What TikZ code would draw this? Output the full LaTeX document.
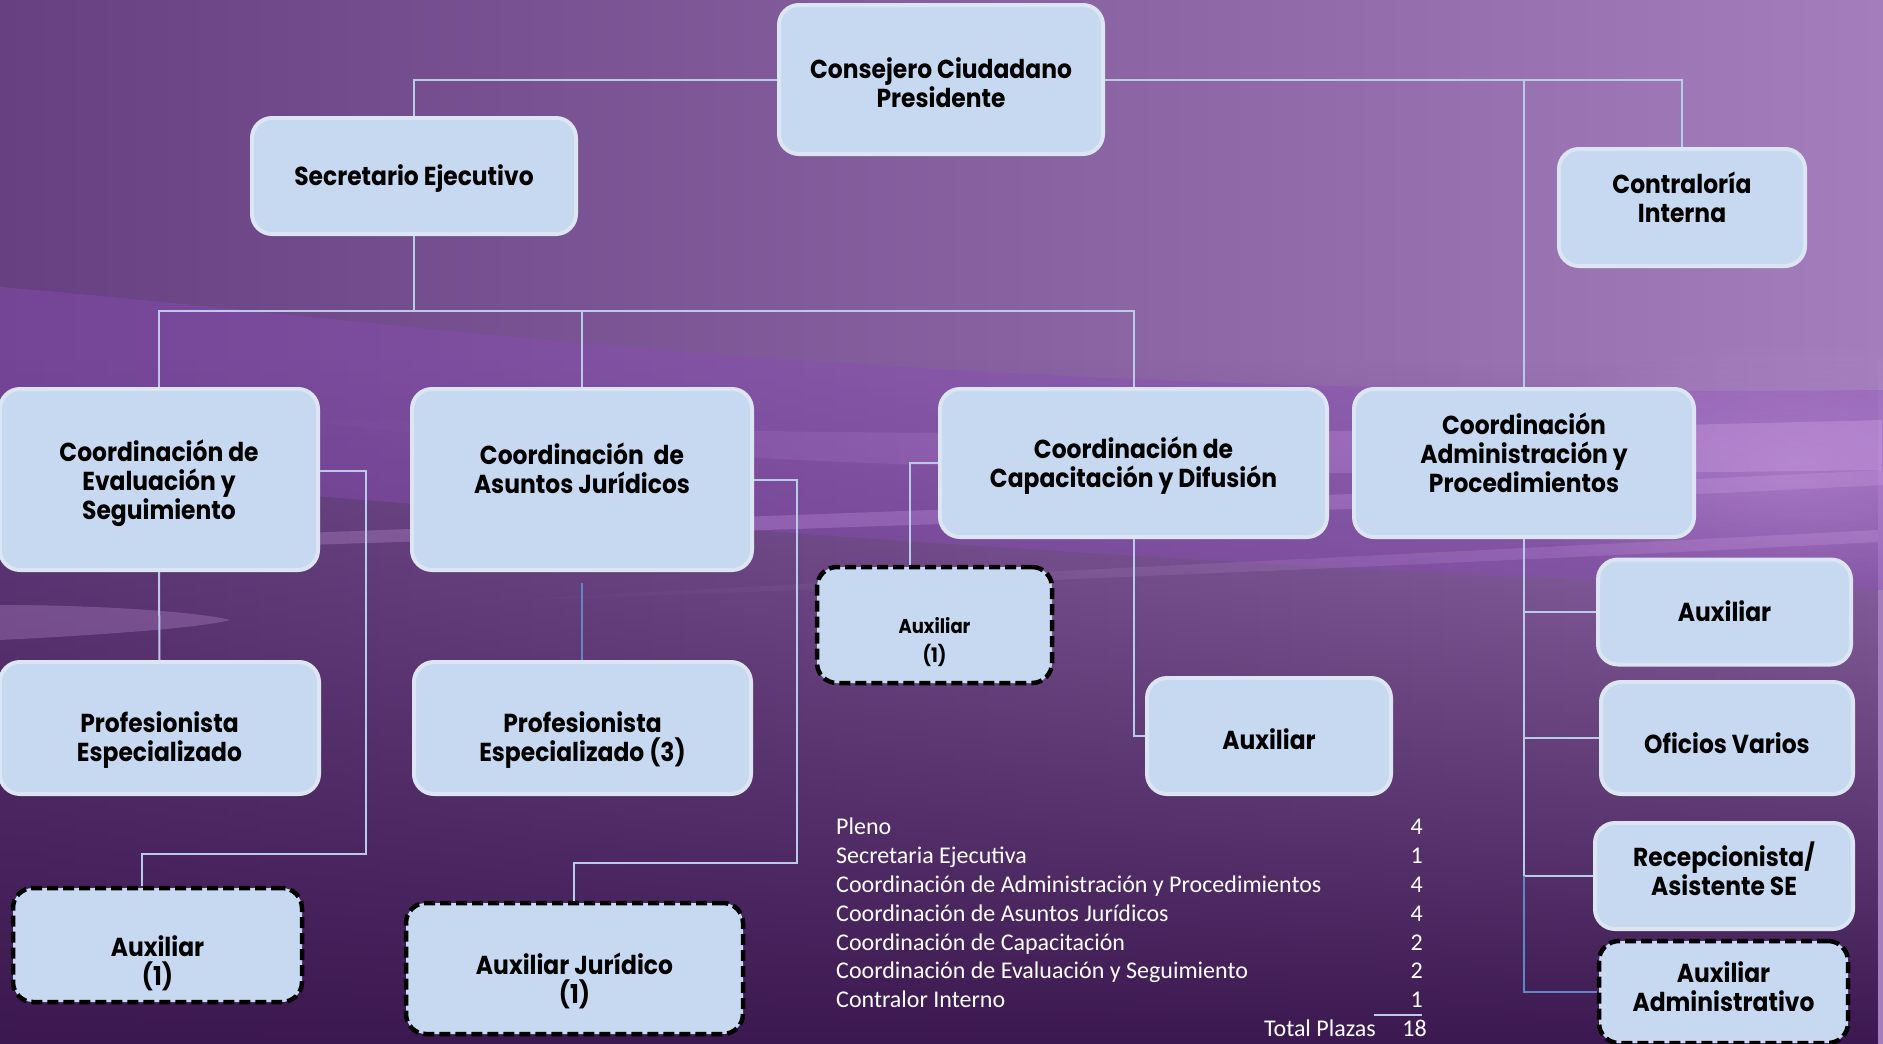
\documentclass[tikz,border=0pt]{standalone}
\usepackage{fontspec}
\setmainfont{Carlito}
\newfontfamily\boxfont[FakeStretch=0.9]{Poppins}
\usetikzlibrary{fadings}
\definecolor{boxfill}{HTML}{C6D9F0}
\definecolor{boxedge}{HTML}{DCE6F2}
\definecolor{conncol}{HTML}{B8CCE8}
\definecolor{connblue}{HTML}{5A8AC6}
\definecolor{bgTL}{HTML}{664080}
\definecolor{bgTR}{HTML}{A47EBC}
\definecolor{bgB}{HTML}{3C1850}
\definecolor{wave}{HTML}{D6A6EC}
\definecolor{violet}{HTML}{8A4CB8}
\tikzfading[name=darkbottom, top color=transparent!100, bottom color=transparent!0]
\tikzfading[name=softglow, inner color=transparent!0, outer color=transparent!100]
\tikzfading[name=fromleft, left color=transparent!100, right color=transparent!0]
\tikzset{
  orgbox/.style={draw=boxedge, line width=4pt, fill=boxfill, rounded corners=20pt, inner sep=0pt},
  dashbox/.style={draw=black, line width=4.5pt, dash pattern=on 11pt off 5pt, fill=boxfill, rounded corners=20pt, inner sep=0pt},
  boxtext/.style={align=center, font=\boxfont\bfseries\fontsize{26}{29}\selectfont, text=black, inner sep=0pt},
  smalltext/.style={align=center, font=\boxfont\bfseries\fontsize{20}{29}\selectfont, text=black, inner sep=0pt},
  conn/.style={draw=conncol, line width=2pt},
  connb/.style={draw=connblue, line width=2pt},
  tabl/.style={anchor=base west, text=white, font=\fontsize{24}{28}\selectfont, inner sep=0pt},
  tabr/.style={anchor=base east, text=white, font=\fontsize{24}{28}\selectfont, inner sep=0pt},
}
% box style, name, cx, cy, w, h, text dy, text style, text
\newcommand{\orgnode}[9]{%
  \node[#1, minimum width=#5pt, minimum height=#6pt] (#2) at (#3,#4) {};
  \node[#8] (#2-t) at (#3,#4+#7) {#9};
}
\begin{document}
\begin{tikzpicture}[x=1pt,y=-1pt]
\useasboundingbox (0,0) rectangle (1883,1044);
% background
\shade[left color=bgTL, right color=bgTR] (0,0) rectangle (1883,1044);
\fill[bgB, path fading=darkbottom] (0,360) rectangle (1883,1044);
% violet sheet
\fill[violet, opacity=0.40] (0,287) .. controls (400,320) and (900,400) .. (1883,390)
  -- (1883,590) .. controls (1200,570) and (600,520) .. (0,470) -- cycle;
% bright streaks
\fill[wave, opacity=0.35, path fading=fromleft] (250,415) .. controls (700,438) and (1200,438) .. (1883,420)
  -- (1883,470) .. controls (1200,480) and (700,470) .. (250,415) -- cycle;
\fill[wave, opacity=0.25] (0,545) .. controls (600,520) and (1300,500) .. (1883,470)
  -- (1883,485) .. controls (1300,515) and (600,535) .. (0,555) -- cycle;
\fill[wave, opacity=0.25, path fading=fromleft] (450,603) .. controls (900,578) and (1400,555) .. (1883,530)
  -- (1883,542) .. controls (1400,567) and (900,587) .. (450,603) -- cycle;
\fill[wave, opacity=0.35, path fading=softglow] (1790,470) ellipse [x radius=300, y radius=130];
\fill[wave, opacity=0.25] (0,605) .. controls (100,605) and (200,612) .. (230,620)
  .. controls (200,628) and (100,635) .. (0,640) -- cycle;

% nodes
\orgnode{orgbox}{cons}{941}{79.5}{324}{149}{3}{boxtext}{Consejero Ciudadano\\Presidente}
\orgnode{orgbox}{sec}{414}{176}{324}{116}{3}{boxtext}{Secretario Ejecutivo}
\orgnode{orgbox}{contr}{1682}{207.5}{246}{117}{-10}{boxtext}{Contraloría\\Interna}
\orgnode{orgbox}{eval}{159}{479.5}{318}{181}{4}{boxtext}{Coordinación de\\Evaluación y\\Seguimiento}
\orgnode{orgbox}{asun}{582}{479.5}{340}{181}{-11}{boxtext}{Coordinación~ de\\Asuntos Jurídicos}
\orgnode{orgbox}{capac}{1133.5}{463}{387}{148}{3}{boxtext}{Coordinación de\\Capacitación y Difusión}
\orgnode{orgbox}{admin}{1524}{463}{340}{148}{-10}{boxtext}{Coordinación\\Administración y\\Procedimientos}
\orgnode{orgbox}{prof1}{159.5}{728}{319}{132}{12}{boxtext}{Profesionista\\Especializado}
\orgnode{orgbox}{prof3}{582.5}{728}{337}{132}{12}{boxtext}{Profesionista\\Especializado (3)}
\orgnode{dashbox}{aux1}{157.5}{945}{289}{114}{18}{boxtext}{Auxiliar\\(1)}
\orgnode{dashbox}{auxjur}{574.5}{968.5}{337}{131}{12}{boxtext}{Auxiliar Jurídico\\(1)}
\orgnode{dashbox}{auxcap}{934.5}{625}{235}{116}{17}{smalltext}{Auxiliar\\(1)}
\orgnode{orgbox}{auxc}{1269}{736}{244}{116}{3}{boxtext}{Auxiliar}
\orgnode{orgbox}{auxa}{1724.5}{612}{253}{105}{-1}{boxtext}{Auxiliar}
\orgnode{orgbox}{ofic}{1727}{738}{252}{112}{5}{boxtext}{Oficios Varios}
\orgnode{orgbox}{recep}{1724}{876}{258}{106}{-7}{boxtext}{Recepcionista/\\Asistente SE}
\orgnode{dashbox}{auxadm}{1723.5}{992}{249}{102}{-5}{boxtext}{Auxiliar\\Administrativo}

% connectors
\coordinate (bus) at (414,311);
\draw[conn] (cons.west) -- (cons.west -| sec.north) -- (sec.north);
\draw[conn] (cons.east) -| (contr.north);
\draw[conn] (cons.east -| admin.north) -- (admin.north);
\draw[conn] (sec.south) -- (bus);
\draw[conn] (eval.north) |- (bus -| capac.north) -- (capac.north);
\draw[conn] (asun.north) -- (asun.north |- bus);
\draw[conn] (eval.south) -- (prof1.north);
\coordinate (ea) at (366,471);
\coordinate (eb) at (142,854);
\draw[conn] (eval.east |- ea) -- (ea) |- (eb) -- (eb |- aux1.north);
\coordinate (ja) at (797,480);
\coordinate (jb) at (574,863);
\draw[conn] (asun.east |- ja) -- (ja) |- (jb) -- (jb |- auxjur.north);
\coordinate (pa) at (582,583);
\draw[connb] (pa) -- (pa |- prof3.north);
\coordinate (ca) at (910,463);
\draw[conn] (capac.west) -- (ca) -- (ca |- auxcap.north);
\draw[conn] (capac.south) |- (auxc.west);
\draw[conn] (admin.south) -- (admin.south |- recep.west);
\draw[conn] (admin.south |- auxa.west) -- (auxa.west);
\draw[conn] (admin.south |- ofic.west) -- (ofic.west);
\draw[conn] (admin.south |- recep.west) -- (recep.west);
\draw[connb] (admin.south |- recep.west) |- (auxadm.west);

% table
\node[tabl] (t1) at (836,834) {Pleno};
\node[tabl] (t2) at (836,863) {Secretaria Ejecutiva};
\node[tabl] (t3) at (836,892) {Coordinación de Administración y Procedimientos};
\node[tabl] (t4) at (836,921) {Coordinación de Asuntos Jurídicos};
\node[tabl] (t5) at (836,950) {Coordinación de Capacitación};
\node[tabl] (t6) at (836,978) {Coordinación de Evaluación y Seguimiento};
\node[tabl] (t7) at (836,1007) {Contralor Interno};
\node[tabr] (n1) at (1423,834) {4};
\node[tabr] (n2) at (1423,863) {1};
\node[tabr] (n3) at (1423,892) {4};
\node[tabr] (n4) at (1423,921) {4};
\node[tabr] (n5) at (1423,950) {2};
\node[tabr] (n6) at (1423,978) {2};
\node[tabr] (n7) at (1423,1007) {1};
\node[tabr] (tt) at (1376,1036) {Total Plazas};
\node[tabr] (nt) at (1427,1036) {18};
\draw[conncol, line width=1.5pt] (1374,1015) -- (1422,1015);
\end{tikzpicture}
\end{document}
